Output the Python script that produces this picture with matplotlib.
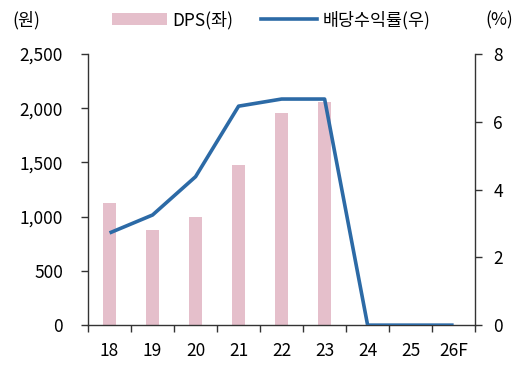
import matplotlib
matplotlib.use("Agg")
import matplotlib.pyplot as plt
from matplotlib.patches import Patch
from matplotlib.lines import Line2D

plt.rcParams['font.family'] = ['Noto Sans CJK KR', 'DejaVu Sans']

years = ["18", "19", "20", "21", "22", "23", "24", "25", "26F"]
dps = [1125, 875, 1000, 1475, 1960, 2060, 0, 0, 0]
yield_pct = [2.72, 3.25, 4.38, 6.46, 6.67, 6.67, 0, 0, 0]
left_ticks = [0, 500, 1000, 1500, 2000, 2500]
right_ticks = [0, 2, 4, 6, 8]

bar_color = "#E5BFCB"
line_color = "#2C6AA6"
spine_color = "#333333"

fig = plt.figure(figsize=(5.21, 3.67), dpi=100)
ax = fig.add_axes([0.169, 0.114, 0.743, 0.739])
ax2 = ax.twinx()

x = list(range(len(years)))
ax.bar(x, dps, width=0.31, color=bar_color, zorder=2)
ax2.plot(x, yield_pct, color=line_color, lw=2.6, zorder=3, solid_capstyle='butt')

ax.set_xlim(-0.5, len(years) - 0.5)
ax.set_ylim(0, 2500)
ax2.set_ylim(0, 8)
ax.set_yticks(left_ticks)
ax.set_yticklabels([f"{v:,}" for v in left_ticks])
ax2.set_yticks(right_ticks)
ax2.set_yticklabels([str(v) for v in right_ticks])

ax.set_xticks([i - 0.5 for i in range(len(years) + 1)])
ax.set_xticklabels([])
ax.set_xticks(x, minor=True)
ax.set_xticklabels(years, minor=True)
ax.tick_params(axis='x', which='minor', length=0, labelsize=12.5, pad=12)
ax.tick_params(axis='x', which='major', length=5, width=1, color=spine_color)
ax.tick_params(axis='y', length=5, width=1, color=spine_color, labelsize=12.5, pad=13)
ax2.tick_params(axis='y', length=5, width=1, color=spine_color, labelsize=12.5, pad=8)

for a in (ax, ax2):
    a.spines['top'].set_visible(False)
    for s in ('left', 'right', 'bottom'):
        a.spines[s].set_color(spine_color)
        a.spines[s].set_linewidth(1)
ax.spines['right'].set_visible(False)
ax2.spines['left'].set_visible(False)
ax2.spines['bottom'].set_visible(False)

fig.text(0.023, 0.945, "(원)", fontsize=12.5, ha='left', va='center')
fig.text(0.985, 0.945, "(%)", fontsize=12.5, ha='right', va='center')

handles = [Patch(facecolor=bar_color, edgecolor='none'),
           Line2D([0], [0], color=line_color, lw=2.6)]
fig.legend(handles, ["DPS(좌)", "배당수익률(우)"], ncol=2, frameon=False,
           loc='center', bbox_to_anchor=(0.52, 0.945), fontsize=12.5,
           handlelength=3.2, handletextpad=0.3, columnspacing=1.6)

fig.savefig("out.png", dpi=100)
